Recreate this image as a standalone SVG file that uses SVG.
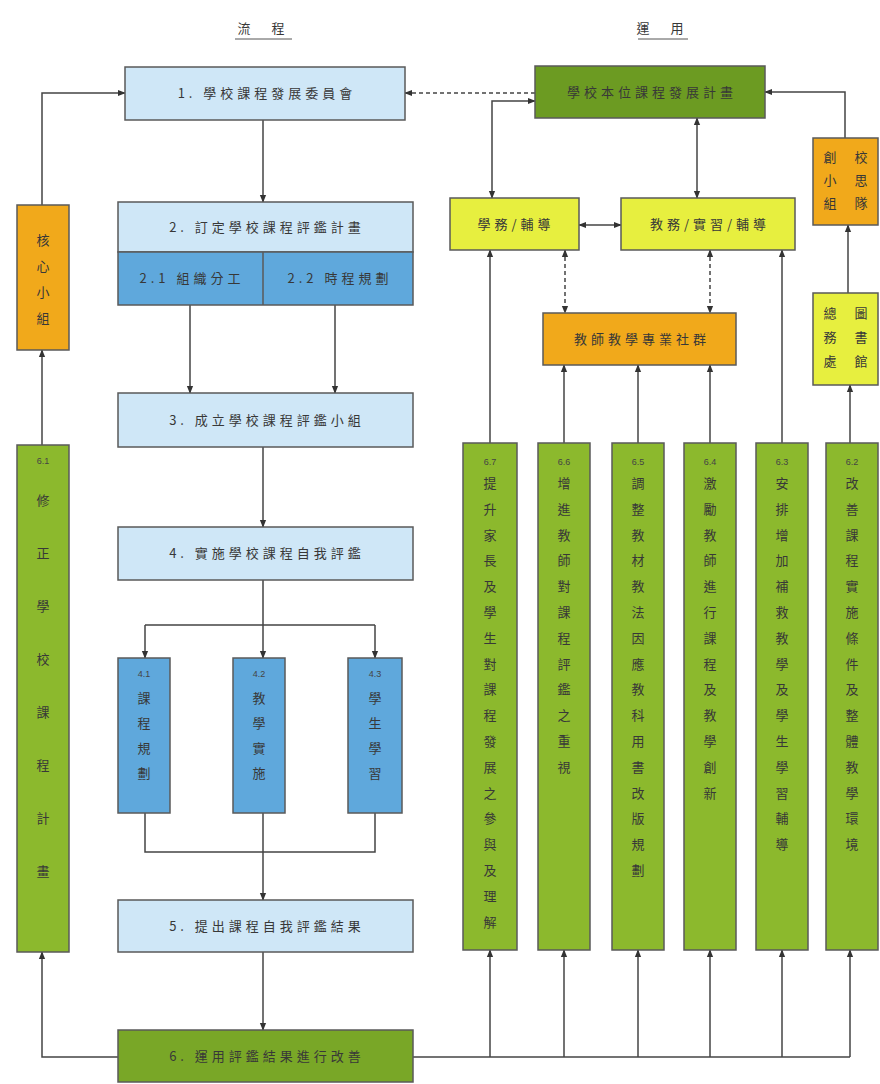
<svg xmlns="http://www.w3.org/2000/svg" width="880" height="1084" viewBox="0 0 880 1084">
<style>
.t{font-family:"Noto Sans CJK TC","Noto Sans CJK SC",sans-serif;fill:#383838;font-size:13px;text-anchor:middle;letter-spacing:4px}
.v{font-family:"Noto Sans CJK TC","Noto Sans CJK SC",sans-serif;fill:#383838;font-size:13px;text-anchor:middle}
.n{font-family:"Liberation Sans",sans-serif;fill:#444;font-size:9px;text-anchor:middle}
.lb{fill:#cfe7f7;stroke:#5a5a5a;stroke-width:1.5}
.mb{fill:#5fa8dc;stroke:#5a5a5a;stroke-width:1.5}
.gd{fill:#6c9b22;stroke:#5a5a5a;stroke-width:1.5}
.gc{fill:#8cb92d;stroke:#5a5a5a;stroke-width:1.5}
.g6{fill:#79a727;stroke:#5a5a5a;stroke-width:1.5}
.or{fill:#f1a91b;stroke:#5a5a5a;stroke-width:1.5}
.ye{fill:#e7ef3f;stroke:#5a5a5a;stroke-width:1.5}
.ln{fill:none;stroke:#444;stroke-width:1.5}
.ds{stroke-dasharray:4 3}
</style>
<defs>
<marker id="a" viewBox="0 0 10 10" refX="9" refY="5" markerWidth="8" markerHeight="8" markerUnits="userSpaceOnUse" orient="auto-start-reverse"><path d="M0,1 L10,5 L0,9 z" fill="#333"/></marker>
</defs>
<rect width="880" height="1084" fill="#fff"/>
<g id="titles">
<text class="t" x="263" y="33">流　程</text>
<line x1="235" y1="39" x2="292" y2="39" stroke="#555" stroke-width="1"/>
<text class="t" x="662" y="33">運　用</text>
<line x1="638" y1="39" x2="688" y2="39" stroke="#555" stroke-width="1"/>
</g>
<g id="connectors">
<path class="ln" d="M42,205 V93 H125" marker-end="url(#a)"/>
<path class="ln" d="M42,445 V350" marker-end="url(#a)"/>
<path class="ln" d="M118,1057 H42 V952" marker-end="url(#a)"/>
<path class="ln" d="M263,120 V202" marker-end="url(#a)"/>
<path class="ln" d="M190,305 V393" marker-end="url(#a)"/>
<path class="ln" d="M335,305 V393" marker-end="url(#a)"/>
<path class="ln" d="M263,447 V527" marker-end="url(#a)"/>
<path class="ln" d="M263,580 V625 M145,625 H375"/>
<path class="ln" d="M145,625 V658" marker-end="url(#a)"/>
<path class="ln" d="M263,625 V658" marker-end="url(#a)"/>
<path class="ln" d="M375,625 V658" marker-end="url(#a)"/>
<path class="ln" d="M145,813 V852 H375 V813"/>
<path class="ln" d="M263,813 V900" marker-end="url(#a)"/>
<path class="ln" d="M263,952 V1030" marker-end="url(#a)"/>
<path class="ln" d="M413,1057 H850"/>
<path class="ln" d="M490,1057 V950" marker-end="url(#a)"/>
<path class="ln" d="M564,1057 V950" marker-end="url(#a)"/>
<path class="ln" d="M638,1057 V950" marker-end="url(#a)"/>
<path class="ln" d="M710,1057 V950" marker-end="url(#a)"/>
<path class="ln" d="M782,1057 V950" marker-end="url(#a)"/>
<path class="ln" d="M850,1057 V950" marker-end="url(#a)"/>
<path class="ln" d="M490,443 V250" marker-end="url(#a)"/>
<path class="ln" d="M564,443 V365" marker-end="url(#a)"/>
<path class="ln" d="M638,443 V365" marker-end="url(#a)"/>
<path class="ln" d="M710,443 V365" marker-end="url(#a)"/>
<path class="ln" d="M782,443 V250" marker-end="url(#a)"/>
<path class="ln" d="M850,443 V385" marker-end="url(#a)"/>
<path class="ln" d="M848,293 V225" marker-end="url(#a)"/>
<path class="ln" d="M845,138 V92 H765" marker-end="url(#a)"/>
<path class="ln" d="M492,198 V101 H535" marker-start="url(#a)" marker-end="url(#a)"/>
<path class="ln" d="M697,198 V118" marker-start="url(#a)" marker-end="url(#a)"/>
<path class="ln" d="M579,225 H621" marker-start="url(#a)" marker-end="url(#a)"/>
<path class="ln ds" d="M565,250 V313" marker-start="url(#a)" marker-end="url(#a)"/>
<path class="ln ds" d="M710,250 V313" marker-start="url(#a)" marker-end="url(#a)"/>
<path class="ln ds" d="M535,93 H405" marker-end="url(#a)"/>
</g>
<g id="n1"><rect class="lb" x="125" y="67" width="280" height="53"/><text class="t" x="267" y="98">1. 學校課程發展委員會</text></g>
<g id="plan"><rect class="gd" x="535" y="66" width="230" height="52"/><text class="t" x="652" y="97">學校本位課程發展計畫</text></g>
<g id="n2"><rect class="lb" x="118" y="202" width="295" height="50"/><rect class="mb" x="118" y="252" width="295" height="53"/><line x1="263" y1="252" x2="263" y2="305" stroke="#5a5a5a" stroke-width="1.5"/>
<text class="t" x="267" y="232">2. 訂定學校課程評鑑計畫</text>
<text class="t" x="192" y="283">2.1 組織分工</text>
<text class="t" x="340" y="283">2.2 時程規劃</text></g>
<g id="n3"><rect class="lb" x="118" y="393" width="295" height="54"/><text class="t" x="267" y="425">3. 成立學校課程評鑑小組</text></g>
<g id="n4"><rect class="lb" x="118" y="527" width="295" height="53"/><text class="t" x="267" y="558">4. 實施學校課程自我評鑑</text></g>
<g id="n41"><rect class="mb" x="118" y="658" width="52" height="155"/><text class="n" x="144" y="677">4.1</text>
<text class="v" x="144" y="703">課<tspan x="144" dy="25">程</tspan><tspan x="144" dy="25">規</tspan><tspan x="144" dy="25">劃</tspan></text></g>
<g id="n42"><rect class="mb" x="233" y="658" width="52" height="155"/><text class="n" x="259" y="677">4.2</text>
<text class="v" x="259" y="703">教<tspan x="259" dy="25">學</tspan><tspan x="259" dy="25">實</tspan><tspan x="259" dy="25">施</tspan></text></g>
<g id="n43"><rect class="mb" x="348" y="658" width="54" height="155"/><text class="n" x="375" y="677">4.3</text>
<text class="v" x="375" y="703">學<tspan x="375" dy="25">生</tspan><tspan x="375" dy="25">學</tspan><tspan x="375" dy="25">習</tspan></text></g>
<g id="n5"><rect class="lb" x="118" y="900" width="295" height="52"/><text class="t" x="267" y="931">5. 提出課程自我評鑑結果</text></g>
<g id="n6"><rect class="g6" x="118" y="1030" width="295" height="52"/><text class="t" x="267" y="1061">6. 運用評鑑結果進行改善</text></g>
<g id="core"><rect class="or" x="17" y="205" width="52" height="145"/>
<text class="v" x="43" y="245">核<tspan x="43" dy="26">心</tspan><tspan x="43" dy="26">小</tspan><tspan x="43" dy="26">組</tspan></text></g>
<g id="n61"><rect class="gc" x="17" y="445" width="52" height="507"/><text class="n" x="43" y="464">6.1</text>
<text class="v" x="43" y="505">修<tspan x="43" dy="53">正</tspan><tspan x="43" dy="53">學</tspan><tspan x="43" dy="53">校</tspan><tspan x="43" dy="53">課</tspan><tspan x="43" dy="53">程</tspan><tspan x="43" dy="53">計</tspan><tspan x="43" dy="53">畫</tspan></text></g>
<g id="xuewu"><rect class="ye" x="450" y="198" width="129" height="52"/><text class="t" x="516" y="229">學務/輔導</text></g>
<g id="jiaowu"><rect class="ye" x="621" y="198" width="174" height="52"/><text class="t" x="710" y="229">教務/實習/輔導</text></g>
<g id="community"><rect class="or" x="543" y="313" width="193" height="52"/><text class="t" x="642" y="344">教師教學專業社群</text></g>
<g id="zongwu"><rect class="ye" x="813" y="293" width="65" height="92"/>
<text class="v" x="830" y="318">總<tspan x="830" dy="24">務</tspan><tspan x="830" dy="24">處</tspan></text>
<text class="v" x="861" y="318">圖<tspan x="861" dy="24">書</tspan><tspan x="861" dy="24">館</tspan></text></g>
<g id="team"><rect class="or" x="813" y="138" width="65" height="87"/>
<text class="v" x="830" y="162">創<tspan x="830" dy="23">小</tspan><tspan x="830" dy="23">組</tspan></text>
<text class="v" x="861" y="162">校<tspan x="861" dy="23">思</tspan><tspan x="861" dy="23">隊</tspan></text></g>
<g id="c67"><rect class="gc" x="463" y="443" width="54" height="507"/><text class="n" x="490" y="465">6.7</text>
<text class="v" x="490" y="488">提<tspan x="490" dy="25.8">升</tspan><tspan x="490" dy="25.8">家</tspan><tspan x="490" dy="25.8">長</tspan><tspan x="490" dy="25.8">及</tspan><tspan x="490" dy="25.8">學</tspan><tspan x="490" dy="25.8">生</tspan><tspan x="490" dy="25.8">對</tspan><tspan x="490" dy="25.8">課</tspan><tspan x="490" dy="25.8">程</tspan><tspan x="490" dy="25.8">發</tspan><tspan x="490" dy="25.8">展</tspan><tspan x="490" dy="25.8">之</tspan><tspan x="490" dy="25.8">參</tspan><tspan x="490" dy="25.8">與</tspan><tspan x="490" dy="25.8">及</tspan><tspan x="490" dy="25.8">理</tspan><tspan x="490" dy="25.8">解</tspan></text></g>
<g id="c66"><rect class="gc" x="538" y="443" width="52" height="507"/><text class="n" x="564" y="465">6.6</text>
<text class="v" x="564" y="488">增<tspan x="564" dy="25.8">進</tspan><tspan x="564" dy="25.8">教</tspan><tspan x="564" dy="25.8">師</tspan><tspan x="564" dy="25.8">對</tspan><tspan x="564" dy="25.8">課</tspan><tspan x="564" dy="25.8">程</tspan><tspan x="564" dy="25.8">評</tspan><tspan x="564" dy="25.8">鑑</tspan><tspan x="564" dy="25.8">之</tspan><tspan x="564" dy="25.8">重</tspan><tspan x="564" dy="25.8">視</tspan></text></g>
<g id="c65"><rect class="gc" x="612" y="443" width="52" height="507"/><text class="n" x="638" y="465">6.5</text>
<text class="v" x="638" y="488">調<tspan x="638" dy="25.8">整</tspan><tspan x="638" dy="25.8">教</tspan><tspan x="638" dy="25.8">材</tspan><tspan x="638" dy="25.8">教</tspan><tspan x="638" dy="25.8">法</tspan><tspan x="638" dy="25.8">因</tspan><tspan x="638" dy="25.8">應</tspan><tspan x="638" dy="25.8">教</tspan><tspan x="638" dy="25.8">科</tspan><tspan x="638" dy="25.8">用</tspan><tspan x="638" dy="25.8">書</tspan><tspan x="638" dy="25.8">改</tspan><tspan x="638" dy="25.8">版</tspan><tspan x="638" dy="25.8">規</tspan><tspan x="638" dy="25.8">劃</tspan></text></g>
<g id="c64"><rect class="gc" x="684" y="443" width="52" height="507"/><text class="n" x="710" y="465">6.4</text>
<text class="v" x="710" y="488">激<tspan x="710" dy="25.8">勵</tspan><tspan x="710" dy="25.8">教</tspan><tspan x="710" dy="25.8">師</tspan><tspan x="710" dy="25.8">進</tspan><tspan x="710" dy="25.8">行</tspan><tspan x="710" dy="25.8">課</tspan><tspan x="710" dy="25.8">程</tspan><tspan x="710" dy="25.8">及</tspan><tspan x="710" dy="25.8">教</tspan><tspan x="710" dy="25.8">學</tspan><tspan x="710" dy="25.8">創</tspan><tspan x="710" dy="25.8">新</tspan></text></g>
<g id="c63"><rect class="gc" x="756" y="443" width="52" height="507"/><text class="n" x="782" y="465">6.3</text>
<text class="v" x="782" y="488">安<tspan x="782" dy="25.8">排</tspan><tspan x="782" dy="25.8">增</tspan><tspan x="782" dy="25.8">加</tspan><tspan x="782" dy="25.8">補</tspan><tspan x="782" dy="25.8">救</tspan><tspan x="782" dy="25.8">教</tspan><tspan x="782" dy="25.8">學</tspan><tspan x="782" dy="25.8">及</tspan><tspan x="782" dy="25.8">學</tspan><tspan x="782" dy="25.8">生</tspan><tspan x="782" dy="25.8">學</tspan><tspan x="782" dy="25.8">習</tspan><tspan x="782" dy="25.8">輔</tspan><tspan x="782" dy="25.8">導</tspan></text></g>
<g id="c62"><rect class="gc" x="826" y="443" width="52" height="507"/><text class="n" x="852" y="465">6.2</text>
<text class="v" x="852" y="488">改<tspan x="852" dy="25.8">善</tspan><tspan x="852" dy="25.8">課</tspan><tspan x="852" dy="25.8">程</tspan><tspan x="852" dy="25.8">實</tspan><tspan x="852" dy="25.8">施</tspan><tspan x="852" dy="25.8">條</tspan><tspan x="852" dy="25.8">件</tspan><tspan x="852" dy="25.8">及</tspan><tspan x="852" dy="25.8">整</tspan><tspan x="852" dy="25.8">體</tspan><tspan x="852" dy="25.8">教</tspan><tspan x="852" dy="25.8">學</tspan><tspan x="852" dy="25.8">環</tspan><tspan x="852" dy="25.8">境</tspan></text></g>
</svg>
